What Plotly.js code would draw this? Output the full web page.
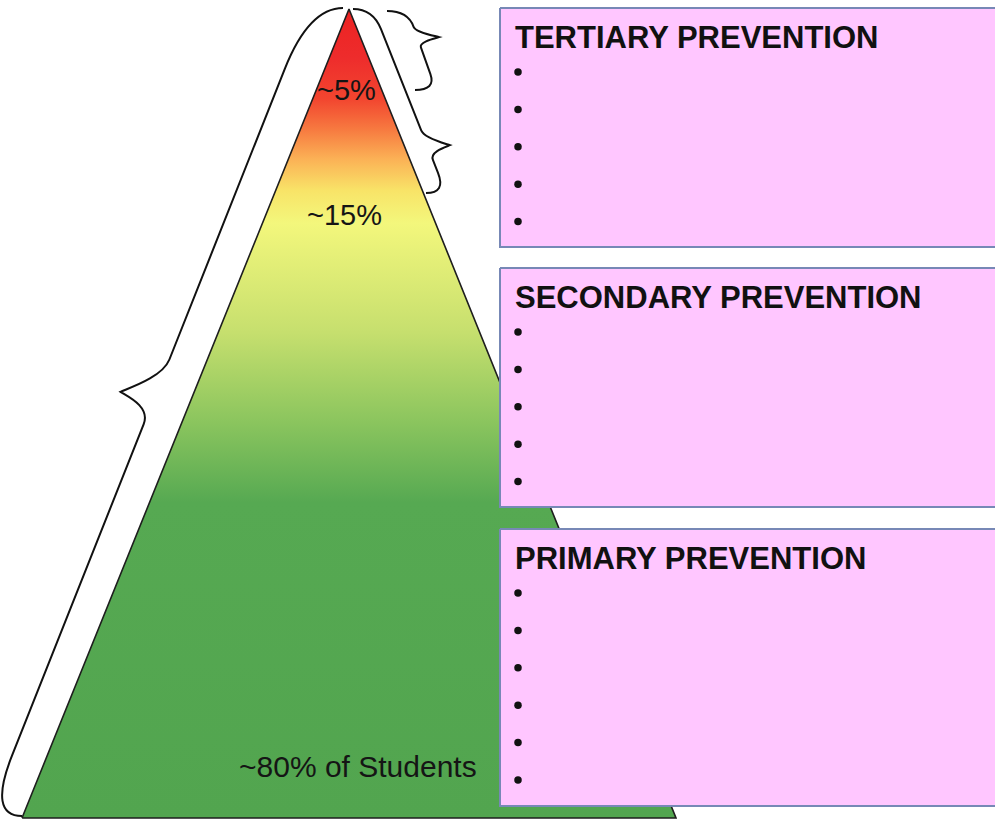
<!DOCTYPE html>
<html>
<head>
<meta charset="utf-8">
<script src="https://cdn.plot.ly/plotly-3.0.1.min.js"></script>
<style>
  html, body { margin: 0; padding: 0; background: #ffffff; }
  #chart { width: 995px; height: 823px; }
</style>
</head>
<body>
<div id="chart"></div>
<script>
// ---- data ----
const tierLabels = ["~5%", "~15%", "~80% of Students"];
const tierShares = [5, 15, 80];
const boxTitles = ["TERTIARY PREVENTION", "SECONDARY PREVENTION", "PRIMARY PREVENTION"];
const bulletCounts = [5, 5, 6];

// ---- geometry (pixel-like data space, y down) ----
const W = 995, H = 823;
const apex = [349, 9], baseL = [22, 818], baseR = [676, 818];
const boxLeft = 500, boxRight = 1010;
const boxTops = [8, 268, 529];
const boxBottoms = [247, 507, 806];
const labelPos = [[346, 90], [344, 215], [358, 766]];
const bulletX = 518, bulletFirst = 64, bulletStep = 37.4, titleOffset = 29, titleX = 513;

// gradient stops (fraction from base to apex)
const gradStops = [
  [0.00, "#52a54f"], [0.39, "#56a952"], [0.49, "#8bc55e"], [0.60, "#c6df6e"],
  [0.735, "#f3f77c"], [0.775, "#f8e468"], [0.814, "#fbb256"], [0.851, "#f77a40"],
  [0.889, "#f2452f"], [0.94, "#ee2c2c"], [1.00, "#ec2222"]
];

const traces = [];
traces.push({
  type: "scatter", mode: "lines",
  x: [baseL[0], apex[0], baseR[0], baseL[0]],
  y: [baseL[1], apex[1], baseR[1], baseL[1]],
  fill: "toself",
  fillgradient: { type: "vertical", start: baseL[1], stop: apex[1], colorscale: gradStops },
  line: { color: "#1e1e1e", width: 1.6 },
  hoverinfo: "skip", showlegend: false
});

// boxes
boxTops.forEach((t, i) => {
  const b = boxBottoms[i];
  traces.push({
    type: "scatter", mode: "lines",
    x: [boxLeft, boxRight, boxRight, boxLeft, boxLeft],
    y: [t, t, b, b, t],
    fill: "toself", fillcolor: "#ffc6ff",
    line: { color: "#7788b6", width: 2 },
    hoverinfo: "skip", showlegend: false
  });
});

// bullets
const bx = [], by = [];
bulletCounts.forEach((n, i) => {
  for (let k = 0; k < n; k++) { bx.push(bulletX); by.push(boxTops[i] + bulletFirst + k * bulletStep); }
});
traces.push({
  type: "scatter", mode: "markers", x: bx, y: by,
  marker: { color: "#111", size: 7.5, line: { width: 0 } },
  hoverinfo: "skip", showlegend: false
});

// braces
function brace(P1, P2, hb, ht, f, re, rm, dir) {
  const pt = (s, o) => [P1[0] + s * (P2[0] - P1[0]) + dir * o, P1[1] + s * (P2[1] - P1[1])];
  const p = (a) => a[0].toFixed(1) + "," + a[1].toFixed(1);
  const d = ht - hb;
  return "M" + p(pt(0, 0)) +
    " Q" + p(pt(0, hb)) + " " + p(pt(re, hb)) +
    " L" + p(pt(f - rm, hb)) +
    " C" + p(pt(f - rm * 0.45, hb)) + " " + p(pt(f - rm * 0.12, ht - d * 0.2)) + " " + p(pt(f, ht)) +
    " C" + p(pt(f + rm * 0.12, ht - d * 0.2)) + " " + p(pt(f + rm * 0.45, hb)) + " " + p(pt(f + rm, hb)) +
    " L" + p(pt(1 - re, hb)) +
    " Q" + p(pt(1, hb)) + " " + p(pt(1, 0));
}

const shapes = [];
const braceLine = { color: "#111", width: 2 };
shapes.push({ type: "path", xref: "x", yref: "y", layer: "above",
  path: brace([343, 8], [22, 816], 34, 70, 0.475, 0.075, 0.04, -1), line: braceLine });
shapes.push({ type: "path", xref: "x", yref: "y", layer: "above",
  path: brace([353, 9], [426, 193], 20, 43, 0.74, 0.11, 0.08, 1), line: braceLine });
shapes.push({ type: "path", xref: "x", yref: "y", layer: "above",
  path: brace([387, 11], [415, 90], 21, 43, 0.33, 0.2, 0.13, 1), line: braceLine });

const annotations = [];
tierLabels.forEach((t, i) => {
  annotations.push({ x: labelPos[i][0], y: labelPos[i][1], xref: "x", yref: "y",
    text: t, showarrow: false, xanchor: "center", yanchor: "middle",
    font: { family: "Liberation Sans, Arial, sans-serif", size: i === 2 ? 30 : 29, color: "#151515" } });
});
boxTitles.forEach((t, i) => {
  annotations.push({ x: titleX, y: boxTops[i] + titleOffset, xref: "x", yref: "y",
    text: "<b>" + t + "</b>", showarrow: false, xanchor: "left", yanchor: "middle",
    font: { family: "Liberation Sans, Arial, sans-serif", size: 31, color: "#111" } });
});

const layout = {
  width: W, height: H,
  margin: { l: 0, r: 0, t: 0, b: 0, pad: 0 },
  paper_bgcolor: "#ffffff", plot_bgcolor: "#ffffff",
  xaxis: { range: [0, W], visible: false, fixedrange: true },
  yaxis: { range: [H, 0], visible: false, fixedrange: true },
  shapes: shapes, annotations: annotations, showlegend: false
};

Plotly.newPlot("chart", traces, layout, { staticPlot: true, displayModeBar: false });
</script>
</body>
</html>
